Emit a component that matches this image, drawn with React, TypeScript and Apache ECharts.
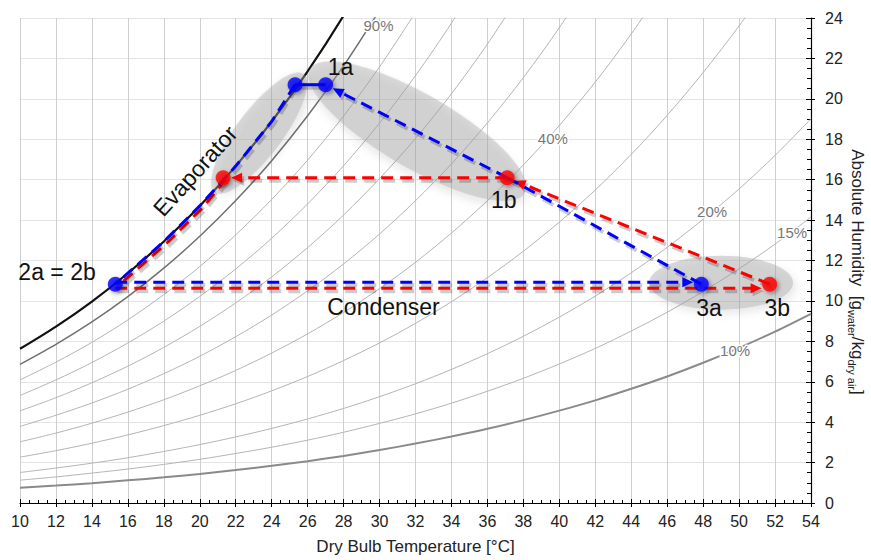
import React, { useEffect, useRef } from 'react';
import * as echarts from 'echarts';

// ---------- data ----------
const temps = [10, 12, 14, 16, 18, 20, 22, 24, 26, 28, 30, 32, 34, 36, 38, 40, 42, 44, 46, 48, 50, 52, 54];

// absolute humidity [g/kg] of the relative-humidity curves, at the temperatures above
const rh100 = [7.63, 8.73, 9.97, 11.37, 12.94, 14.70, 16.67, 18.88, 21.36, 24.12, 27.21];
const rh90 = [6.86, 7.85, 8.96, 10.21, 11.62, 13.20, 14.97, 16.94, 19.16, 21.63, 24.38];
const rh80 = [6.09, 6.97, 7.95, 9.06, 10.31, 11.70, 13.27, 15.02, 16.97, 19.15, 21.58, 24.28];
const rh70 = [5.32, 6.09, 6.95, 7.92, 9.00, 10.22, 11.58, 13.10, 14.80, 16.69, 18.80, 21.15, 23.75, 26.65];
const rh60 = [4.56, 5.21, 5.95, 6.77, 7.70, 8.74, 9.90, 11.19, 12.64, 14.25, 16.05, 18.04, 20.25, 22.71, 25.43];
const rh50 = [3.79, 4.34, 4.95, 5.63, 6.40, 7.26, 8.23, 9.30, 10.50, 11.83, 13.31, 14.96, 16.78, 18.81, 21.05, 23.52, 26.26];
const rh40 = [3.03, 3.46, 3.95, 4.50, 5.11, 5.80, 6.56, 7.42, 8.37, 9.43, 10.61, 11.91, 13.36, 14.96, 16.73, 18.68, 20.83, 23.21, 25.83];
const rh30 = [2.27, 2.59, 2.96, 3.37, 3.83, 4.34, 4.91, 5.55, 6.26, 7.05, 7.92, 8.89, 9.96, 11.15, 12.46, 13.90, 15.49, 17.25, 19.18, 21.30, 23.61, 26.16];
const rh20 = [1.51, 1.73, 1.97, 2.24, 2.55, 2.89, 3.27, 3.69, 4.16, 4.68, 5.26, 5.90, 6.61, 7.39, 8.25, 9.20, 10.24, 11.39, 12.65, 14.04, 15.54, 17.20, 19.01];
const rh15 = [1.13, 1.29, 1.48, 1.68, 1.91, 2.16, 2.45, 2.76, 3.11, 3.50, 3.94, 4.41, 4.94, 5.53, 6.17, 6.88, 7.65, 8.51, 9.44, 10.47, 11.59, 12.81, 14.15];
const rh10 = [0.76, 0.86, 0.98, 1.12, 1.27, 1.44, 1.63, 1.84, 2.07, 2.33, 2.62, 2.94, 3.29, 3.67, 4.10, 4.57, 5.08, 5.65, 6.26, 6.94, 7.68, 8.48, 9.36];
const rhNames = ['100%', '90%', '80%', '70%', '60%', '50%', '40%', '30%', '20%', '15%', '10%'];
const rhCurves = [rh100, rh90, rh80, rh70, rh60, rh50, rh40, rh30, rh20, rh15, rh10];

// state points of the two cycles
const stateNames = ['1a', '1b', 'evap a', 'evap b', '2a = 2b', '3a', '3b'];
const stateT = [27.0, 37.1, 25.3, 21.3, 15.3, 47.9, 51.7];
const stateW = [20.7, 16.1, 20.7, 16.1, 10.83, 10.83, 10.83];
const blueStates = [0, 2, 4, 5];
const redStates = [1, 3, 6];

// annotation texts and where they sit (data coordinates)
const annText = ['1a', '1b', '2a = 2b', '3a', '3b', 'Evaporator', 'Condenser', '90%', '40%', '20%', '15%', '10%'];
const annT = [27.83, 36.91, 12.06, 48.33, 52.12, 19.75, 30.22, 29.94, 39.64, 48.5, 52.95, 49.78];
const annW = [21.56, 15.01, 11.41, 9.64, 9.64, 16.43, 9.71, 23.63, 18.06, 14.42, 13.38, 7.57];

// ---------- styles / layout ----------
const FONT = '"Liberation Sans", Arial, sans-serif';
const BLUE = '#0000ff';
const RED = '#ff0000';
const curveColor = ['#111111', '#707070', '#b4b4b4', '#b4b4b4', '#b4b4b4', '#b4b4b4', '#b4b4b4', '#b4b4b4', '#b4b4b4', '#b4b4b4', '#8a8a8a'];
const curveWidth = [2.2, 1.5, 1, 1, 1, 1, 1, 1, 1, 1, 2];
const annRot = [0, 0, 0, 0, 0, 48, 0, 0, 0, 0, 0, 0];

const ellCT = [23.3, 32.1, 49.0];
const ellCW = [18.3, 18.4, 10.9];
const ellRx = [74, 124, 72];
const ellRy = [23, 37, 27];
const ellRot = [53, -30, 0];

const R = 8; // point radius (px) for arrow tips
const AL = 11; // arrow length
const AW = 5; // arrow half width
const SH_DX = 2;
const SH_DY = 3;
const SH_COLOR = 'rgba(0,0,0,0.2)';

function satBetween(a: number, b: number): number[][] {
  // saturation curve points strictly between temperatures a and b, ordered from a to b
  const pts: number[][] = [];
  temps.forEach((t, i) => {
    if (i < rh100.length && t > Math.min(a, b) && t < Math.max(a, b)) pts.push([t, rh100[i]]);
  });
  if (a > b) pts.reverse();
  return pts;
}
const P = (i: number) => [stateT[i], stateW[i]];

type PathDef = { color: string; pts: number[][]; arrow: boolean; dx: number; dy: number; solid?: boolean };
const paths: PathDef[] = [
  // red cycle (drawn first)
  { color: RED, pts: [P(1), P(3)], arrow: true, dx: 0, dy: 0 },
  { color: RED, pts: [P(3), ...satBetween(stateT[3], stateT[4]), P(4)], arrow: false, dx: 3, dy: 1.5 },
  { color: RED, pts: [P(4), P(6)], arrow: true, dx: 0, dy: 4 },
  { color: RED, pts: [P(6), P(1)], arrow: true, dx: 0, dy: 0 },
  // blue cycle
  { color: BLUE, pts: [P(1), P(0)], arrow: true, dx: 0, dy: 0 },
  { color: BLUE, pts: [P(0), P(2)], arrow: false, dx: 0, dy: 0, solid: true },
  { color: BLUE, pts: [P(2), ...satBetween(stateT[2], stateT[4]), P(4)], arrow: false, dx: 0, dy: 0 },
  { color: BLUE, pts: [P(4), P(5)], arrow: true, dx: 0, dy: -2 },
  { color: BLUE, pts: [P(5), P(1)], arrow: false, dx: 0, dy: 0 },
];

function renderPath(params: any, api: any) {
  const path = paths[api.value(2)];
  const pts = path.pts.map((p) => {
    const c = api.coord(p);
    return [c[0] + path.dx, c[1] + path.dy];
  });
  const line = pts.map((p) => p.slice());
  let arrowPts: number[][] | null = null;
  if (path.arrow) {
    const n = pts.length;
    const [x1, y1] = pts[n - 2];
    const [x2, y2] = pts[n - 1];
    const len = Math.hypot(x2 - x1, y2 - y1) || 1;
    const ux = (x2 - x1) / len;
    const uy = (y2 - y1) / len;
    const tip = [x2 - ux * R, y2 - uy * R];
    const base = [tip[0] - ux * AL, tip[1] - uy * AL];
    const px = -uy;
    const py = ux;
    line[n - 1] = [base[0] + ux * 2, base[1] + uy * 2];
    arrowPts = [tip, [base[0] + px * AW, base[1] + py * AW], [base[0] - px * AW, base[1] - py * AW]];
  }
  const dash = path.solid ? null : [12, 7];
  const shift = (arr: number[][]) => arr.map((p) => [p[0] + SH_DX, p[1] + SH_DY]);
  const children: any[] = [
    {
      type: 'polyline',
      shape: { points: shift(line) },
      style: { stroke: SH_COLOR, lineWidth: 4, lineDash: dash, fill: null },
    },
  ];
  if (arrowPts) {
    children.push({ type: 'polygon', shape: { points: shift(arrowPts) }, style: { fill: SH_COLOR } });
  }
  children.push({
    type: 'polyline',
    shape: { points: line },
    style: { stroke: path.color, lineWidth: 3, lineDash: dash, fill: null },
  });
  if (arrowPts) {
    children.push({ type: 'polygon', shape: { points: arrowPts }, style: { fill: path.color } });
  }
  return { type: 'group', children };
}

function renderEllipse(params: any, api: any) {
  const i = api.value(2);
  const c = api.coord([api.value(0), api.value(1)]);
  return {
    type: 'ellipse',
    x: c[0],
    y: c[1],
    rotation: (ellRot[i] * Math.PI) / 180,
    shape: { cx: 0, cy: 0, rx: ellRx[i], ry: ellRy[i] },
    style: {
      fill: 'rgba(165,165,165,0.42)',
      shadowBlur: 8,
      shadowColor: 'rgba(0,0,0,0.22)',
      shadowOffsetX: 3,
      shadowOffsetY: 4,
    },
  };
}

function renderText(params: any, api: any) {
  const i = api.value(2);
  const c = api.coord([api.value(0), api.value(1)]);
  const big = i < 7;
  const style: any = {
    text: annText[i],
    fill: big ? '#111' : '#777',
    fontSize: big ? 23 : 15,
    fontFamily: FONT,
    align: 'center',
    verticalAlign: 'middle',
  };
  if (!big) {
    style.stroke = '#ffffff';
    style.lineWidth = 3;
  }
  return {
    type: 'text',
    x: c[0],
    y: c[1],
    rotation: (annRot[i] * Math.PI) / 180,
    style,
  };
}

function buildOption(): any {
  const axisLabelStyle = { fontSize: 16, color: '#222', fontFamily: FONT };
  const pointStyle = (color: string) => ({
    color,
    shadowBlur: 4,
    shadowColor: 'rgba(0,0,0,0.45)',
    shadowOffsetX: 2,
    shadowOffsetY: 2,
  });
  return {
    animation: false,
    grid: { left: 20, right: 60, top: 18, bottom: 54 },
    xAxis: [
      {
        type: 'value',
        min: 10,
        max: 54,
        interval: 2,
        position: 'bottom',
        axisLine: { show: true, onZero: false, lineStyle: { color: '#000', width: 1.2 } },
        axisTick: { show: true, inside: true, length: 4, lineStyle: { color: '#000' } },
        minorTick: { show: true, splitNumber: 4, length: 3, lineStyle: { color: '#000' } },
        axisLabel: { ...axisLabelStyle, margin: 10 },
        splitLine: { show: true, lineStyle: { color: '#cfcfcf', width: 1 } },
        name: 'Dry Bulb Temperature [°C]',
        nameLocation: 'middle',
        nameGap: 35,
        nameTextStyle: { fontSize: 17, color: '#222', fontFamily: FONT },
      },
      {
        type: 'value',
        min: 10,
        max: 54,
        interval: 2,
        position: 'bottom',
        axisLine: { show: false },
        axisTick: { show: true, inside: false, length: 4, lineStyle: { color: '#000' } },
        axisLabel: { show: false },
        splitLine: { show: false },
      },
    ],
    yAxis: [
      {
        type: 'value',
        min: 0,
        max: 24,
        interval: 2,
        position: 'right',
        axisLine: { show: true, onZero: false, lineStyle: { color: '#000', width: 1.2 } },
        axisTick: { show: true, inside: true, length: 5, lineStyle: { color: '#000' } },
        minorTick: { show: true, splitNumber: 4, length: 4, lineStyle: { color: '#000' } },
        axisLabel: { ...axisLabelStyle, margin: 14 },
        splitLine: { show: true, lineStyle: { color: '#e4e4e4', width: 1 } },
      },
      {
        type: 'value',
        min: 0,
        max: 24,
        interval: 2,
        position: 'right',
        axisLine: { show: false },
        axisTick: { show: true, inside: false, length: 4, lineStyle: { color: '#000' } },
        axisLabel: { show: false },
        splitLine: { show: false },
      },
    ],
    graphic: [
      {
        type: 'text',
        x: 857,
        y: 272,
        rotation: -Math.PI / 2,
        style: {
          text: '{n|Absolute Humidity  [g}{s|water}{n|/kg}{s|dry air}{n|]}',
          align: 'center',
          verticalAlign: 'middle',
          fill: '#222',
          rich: {
            n: { fontSize: 17, lineHeight: 22, fontFamily: FONT, fill: '#222' },
            s: { fontSize: 11, verticalAlign: 'bottom', fontFamily: FONT, fill: '#222' },
          },
        },
      },
    ],
    series: [
      ...rhCurves.map((arr, k) => ({
        type: 'line',
        name: rhNames[k],
        data: arr.map((w, i) => [temps[i], w]),
        symbol: 'none',
        showSymbol: false,
        smooth: 0.3,
        clip: true,
        silent: true,
        z: 2,
        lineStyle: { color: curveColor[k], width: curveWidth[k] },
      })),
      {
        type: 'custom',
        name: 'ellipses',
        renderItem: renderEllipse,
        data: ellCT.map((t, i) => [t, ellCW[i], i]),
        silent: true,
        z: 3,
      },
      {
        type: 'custom',
        name: 'process',
        renderItem: renderPath,
        data: paths.map((p, i) => [p.pts[0][0], p.pts[0][1], i]),
        silent: true,
        z: 4,
      },
      {
        type: 'scatter',
        name: 'cycle b',
        data: redStates.map((i) => ({ name: stateNames[i], value: [stateT[i], stateW[i]] })),
        symbol: 'circle',
        symbolSize: 15,
        itemStyle: pointStyle(RED),
        z: 5,
      },
      {
        type: 'scatter',
        name: 'cycle a',
        data: blueStates.map((i) => ({ name: stateNames[i], value: [stateT[i], stateW[i]] })),
        symbol: 'circle',
        symbolSize: 15,
        itemStyle: pointStyle(BLUE),
        z: 6,
      },
      {
        type: 'custom',
        name: 'labels',
        renderItem: renderText,
        data: annT.map((t, i) => [t, annW[i], i]),
        silent: true,
        z: 7,
      },
    ],
  };
}

export default function App() {
  const ref = useRef<HTMLDivElement>(null);
  useEffect(() => {
    document.body.style.margin = '0';
    const chart = echarts.init(ref.current as HTMLDivElement, null, { renderer: 'svg' });
    chart.setOption(buildOption());
    return () => chart.dispose();
  }, []);
  return <div ref={ref} style={{ width: 871, height: 560 }} />;
}
